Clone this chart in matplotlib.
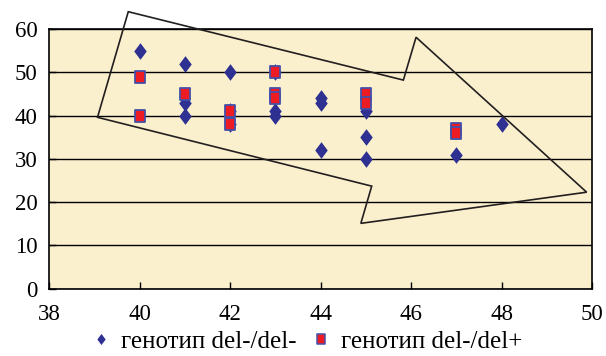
import matplotlib.pyplot as plt
from matplotlib.patches import Polygon
from matplotlib.lines import Line2D
from matplotlib.path import Path

plt.rcParams['font.family'] = ['Liberation Serif', 'DejaVu Serif']

# genotype del-/del- (diamonds)
dd_x = [40, 41, 41, 41, 42, 42, 42, 43, 43, 43, 44, 44, 44, 45, 45, 45, 47, 48]
dd_y = [55, 52, 43, 40, 50, 41, 38, 50, 41, 40, 44, 43, 32, 41, 35, 30, 31, 38]

# genotype del-/del+ (squares)
dp_x = [40, 40, 41, 42, 42, 43, 43, 43, 45, 45, 47, 47]
dp_y = [49, 40, 45, 41, 38, 50, 45, 44, 45, 43, 37, 36]

xticks = [38, 40, 42, 44, 46, 48, 50]
yticks = [0, 10, 20, 30, 40, 50, 60]

# hand-drawn arrow outline (annotation, data units)
arrow_xy = [(39.75, 64.0), (45.83, 48.2), (46.11, 58.1), (49.88, 22.3),
            (44.89, 15.1), (45.13, 23.7), (39.07, 39.6)]

navy = '#2E3192'
red = '#ED1C24'

# diamond a bit wider than 'd', rectangle a bit taller than 's'
diamond = Path([(0, 1), (0.75, 0), (0, -1), (-0.75, 0), (0, 1)], closed=True)
rect = Path([(-0.8, -1), (0.8, -1), (0.8, 1), (-0.8, 1), (-0.8, -1)], closed=True)

fig = plt.figure(figsize=(6.06, 3.56), dpi=100)
ax = fig.add_axes([0.081, 0.189, 0.896, 0.7295])
ax.set_facecolor('#FAF0CE')

ax.set_xlim(38, 50)
ax.set_ylim(0, 60)
ax.set_xticks(xticks)
ax.set_yticks(yticks)
ax.yaxis.grid(True, color='black', lw=1.0)
ax.set_axisbelow(True)
ax.tick_params(direction='in', length=5, width=1, labelsize=16.5, color='black')
ax.tick_params(axis='x', pad=11)
ax.tick_params(axis='y', pad=8.5)
for s in ax.spines.values():
    s.set_linewidth(1.2)

ax.plot(dd_x, dd_y, ls='none', marker=diamond, color=navy, markersize=12,
        markeredgewidth=0, zorder=3)
ax.plot(dp_x, dp_y, ls='none', marker=rect, markerfacecolor=red, markeredgecolor='#4450A8',
        markeredgewidth=1.3, markersize=8.5, zorder=4)

arrow = Polygon(arrow_xy, closed=True, fill=False, edgecolor='#231F20', lw=1.2,
                clip_on=False, zorder=5)
ax.add_patch(arrow)

handles = [
    Line2D([], [], ls='none', marker=diamond, color=navy, markersize=8, markeredgewidth=0),
    Line2D([], [], ls='none', marker=rect, markerfacecolor=red, markeredgecolor='#4450A8',
           markeredgewidth=1.1, markersize=7),
]
fig.legend(handles, ['генотип del-/del-', 'генотип del-/del+'], loc='lower center',
           bbox_to_anchor=(0.507, -0.055), ncol=2, frameon=False, handlelength=0.7,
           handletextpad=0.45, columnspacing=0.6, prop={'size': 18})

fig.savefig('out.png', dpi=100, facecolor='white')
